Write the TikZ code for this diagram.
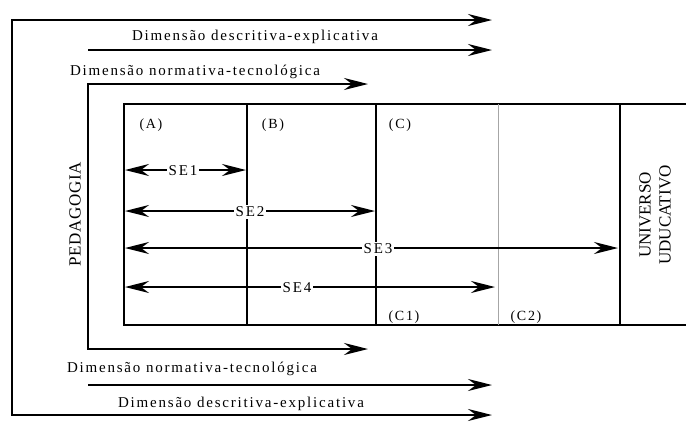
\documentclass[tikz,border=0pt]{standalone}
\usepackage{fontspec}
\setmainfont{Liberation Serif}
\usetikzlibrary{arrows.meta}
\begin{document}
\begin{tikzpicture}[x=1pt,y=-1pt,>={Stealth[length=24pt,width=12pt,inset=8pt]},line width=1.8pt,
  dimtext/.style={font=\fontsize{15}{17}\selectfont\addfontfeature{LetterSpace=12},inner sep=0pt},
  celltext/.style={font=\fontsize{14}{16}\selectfont\addfontfeature{LetterSpace=12},inner sep=0pt},
  setext/.style={font=\fontsize{15}{17}\selectfont\addfontfeature{LetterSpace=12},fill=white,inner sep=1.5pt}]
\useasboundingbox (0,0) rectangle (686,421);

\coordinate (otop) at (492,20);
\coordinate (otl) at (12,20);
\coordinate (obl) at (12,415);
\coordinate (obot) at (492,415);
\draw[<->] (otop) -- (otl) -- (obl) -- (obot);

\coordinate (mtop) at (368,84);
\coordinate (mtl) at (88,84);
\coordinate (mbl) at (88,349);
\coordinate (mbot) at (368,349);
\draw[<->] (mtop) -- (mtl) -- (mbl) -- (mbot);

\coordinate (d1s) at (88,50);
\coordinate (d1e) at (492,50);
\draw[->] (d1s) -- (d1e);
\coordinate (d2s) at (88,385);
\coordinate (d2e) at (492,385);
\draw[->] (d2s) -- (d2e);

\node[dimtext] (descTop) at (255,37) {Dimensão descritiva-explicativa};
\node[dimtext] (normTop) at (195,72) {Dimensão normativa-tecnológica};
\node[dimtext] (normBot) at (192,369) {Dimensão normativa-tecnológica};
\node[dimtext] (descBot) at (241,404) {Dimensão descritiva-explicativa};

\node[font=\fontsize{17}{19}\selectfont\addfontfeature{LetterSpace=4},rotate=90] (pedagogia) at (75,214) {PEDAGOGIA};

\draw[line width=2.4pt] (124,104) rectangle (720,325);
\draw[line width=2.4pt] (247,104) -- (247,325);
\draw[line width=2.4pt] (376,104) -- (376,325);
\draw[line width=0.7pt,gray!70] (498,104) -- (498,325);
\draw[line width=2.4pt] (620,104) -- (620,325);

\node[celltext] (A) at (151,125) {(A)};
\node[celltext] (B) at (273,125) {(B)};
\node[celltext] (C) at (400,125) {(C)};
\node[celltext] (C1) at (404,317) {(C1)};
\node[celltext] (C2) at (526,317) {(C2)};

\node[font=\fontsize{17}{20}\selectfont,rotate=90,align=center] (universo) at (655,215) {UNIVERSO\\UDUCATIVO};

\coordinate (se1s) at (125,170);
\coordinate (se1e) at (246,170);
\coordinate (se2s) at (125,211);
\coordinate (se2e) at (375,211);
\coordinate (se3s) at (125,248);
\coordinate (se3e) at (618,248);
\coordinate (se4s) at (125,287);
\coordinate (se4e) at (495,287);
\draw[<->] (se1s) -- (se1e);
\draw[<->] (se2s) -- (se2e);
\draw[<->] (se3s) -- (se3e);
\draw[<->] (se4s) -- (se4e);

\node[setext] (SE1) at (183,171) {SE1};
\node[setext] (SE2) at (250,212) {SE2};
\node[setext] (SE3) at (378,249) {SE3};
\node[setext] (SE4) at (297,288) {SE4};
\end{tikzpicture}
\end{document}
